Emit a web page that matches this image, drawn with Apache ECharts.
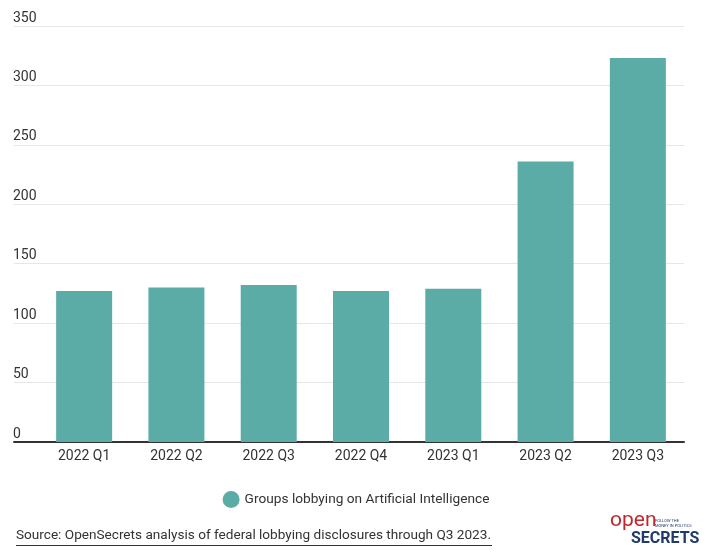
<!DOCTYPE html>
<html><head><meta charset="utf-8">
<script src="https://cdn.jsdelivr.net/npm/echarts@6/dist/echarts.min.js"></script>
<style>html,body{margin:0;padding:0;background:#fff}#c{width:712px;height:553px}</style>
</head><body><div id="c"></div>
<script>
const categories = ['2022 Q1','2022 Q2','2022 Q3','2022 Q4','2023 Q1','2023 Q2','2023 Q3'];
const groupsLobbying = [127, 130, 132, 127, 129, 236, 323];
const seriesName = 'Groups lobbying on Artificial Intelligence';
const sourceText = 'Source: OpenSecrets analysis of federal lobbying disclosures through Q3 2023.';
const yMax = 350, yStep = 50;

const chart = echarts.init(document.getElementById('c'), null, {renderer:'canvas'});
const font = 'Roboto, "Noto Sans", sans-serif';
chart.setOption({
  animation:false,
  color:['#5BABA7'],
  textStyle:{fontFamily:font},
  grid:[
    {left:14, right:28, top:26, bottom:111},
    {left:38, right:28, top:26, bottom:111}
  ],
  xAxis:[
    {gridIndex:0, type:'category', data:categories, axisLabel:{show:false}, axisTick:{show:false},
     axisLine:{show:true, lineStyle:{color:'#333', width:2}}},
    {gridIndex:1, type:'category', data:categories, axisTick:{show:false}, axisLine:{show:false},
     axisLabel:{color:'#333', fontSize:14, fontFamily:font, margin:7}}
  ],
  yAxis:[
    {gridIndex:0, type:'value', min:0, max:yMax, interval:yStep,
     axisLine:{show:false}, axisTick:{show:false},
     splitLine:{lineStyle:{color:'#e6e6e6', width:1}},
     axisLabel:{inside:true, align:'left', verticalAlign:'bottom', color:'#333', fontSize:14, fontFamily:font, margin:-1, padding:[0,0,1,0]}},
    {gridIndex:1, type:'value', min:0, max:yMax, interval:yStep, show:false}
  ],
  legend:{bottom:40, left:'center', itemWidth:17, itemHeight:17, icon:'circle', itemGap:10,
    textStyle:{color:'#333', fontSize:13.7, fontFamily:font}, data:[seriesName]},
  series:[{
    name:seriesName, type:'bar', xAxisIndex:1, yAxisIndex:1, data:groupsLobbying,
    barWidth:56, itemStyle:{color:'#5BABA7'}
  }],
  graphic:[
    {type:'text', left:16, top:529, style:{text:sourceText, fill:'#333', fontSize:13.6, fontFamily:font}},
    {type:'rect', left:16, top:545, shape:{width:476, height:1}, style:{fill:'#333'}},
    {type:'text', left:610, top:510, style:{text:'open', fill:'#c0282d', fontSize:21, fontFamily:font, fontWeight:'normal'}},
    {type:'text', left:655, top:518, style:{text:'FOLLOW THE\nMONEY IN POLITICS', fill:'#1f3a6b', fontSize:4, lineHeight:5, fontFamily:font}},
    {type:'text', left:631, top:531, style:{text:'SECRETS', fill:'#1f3a6b', fontSize:16, fontWeight:'bold', fontFamily:font}}
  ]
});
</script></body></html>
